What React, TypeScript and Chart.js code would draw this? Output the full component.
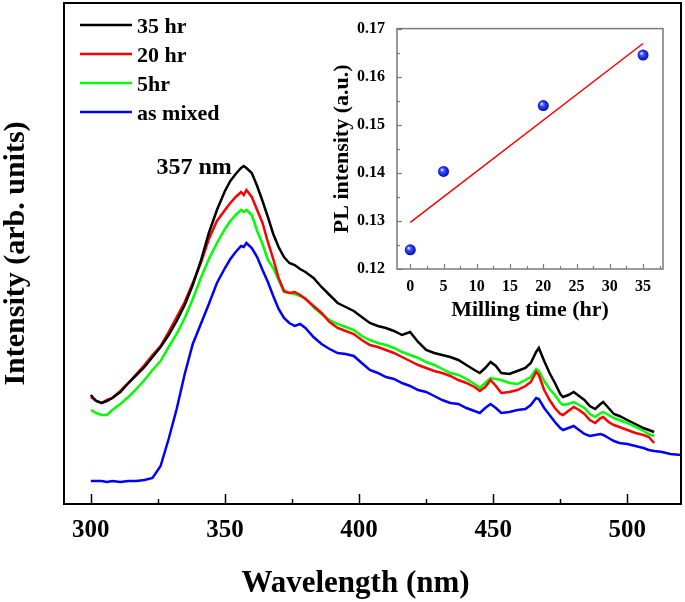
import React, { useEffect, useRef } from 'react';
import { Chart, registerables } from 'chart.js';

Chart.register(...registerables);

const FONT = "'Liberation Serif', 'Times New Roman', serif";

// ---- main spectra (wavelength in nm, intensity in arb. units) ----
const wavelengths = [
  300, 302, 304, 306, 308, 311, 314, 317, 320, 323, 326, 329, 332, 335, 338, 341, 344, 347, 350, 352,
  354, 356, 357, 358, 360, 362, 364, 366, 368, 370, 372, 374, 376, 378, 380, 383, 386, 389, 392, 395,
  398, 401, 404, 407, 410, 413, 416, 419, 422, 425, 428, 431, 434, 437, 440, 443, 445, 447, 449, 451,
  453, 456, 459, 462, 464, 466, 467, 469, 471, 473, 475, 476, 478, 480, 482, 484, 486, 488, 490, 491,
  493, 495, 497, 500, 503, 506, 508, 510,
];
const intensity35hr = [
  109, 103, 101, 103, 106, 112, 121, 129, 137, 147, 157, 169, 183, 199, 219, 243, 271, 294, 313, 323,
  330, 336, 338, 336, 331, 318, 303, 287, 270, 257, 247, 241, 239, 235, 232, 226, 217, 209, 201, 197,
  193, 187, 181, 178, 176, 173, 169, 172, 162, 154, 151, 149, 147, 144, 139, 134, 131, 136, 142, 138,
  131, 130, 133, 136, 141, 152, 156, 143, 131, 121, 110, 107, 109, 112, 108, 104, 98, 95, 100, 102,
  96, 90, 88, 84, 80, 76, 74, 72,
];
const intensity20hr = [
  107, 103, 101, 104, 106, 113, 121, 130, 139, 149, 158, 172, 187, 202, 221, 241, 265, 283, 294, 301,
  307, 312, 309, 314, 307, 294, 281, 262, 245, 226, 213, 211, 212, 209, 205, 198, 191, 182, 176, 173,
  170, 164, 159, 157, 154, 151, 147, 143, 139, 136, 133, 131, 128, 124, 121, 117, 113, 117, 124, 118,
  111, 112, 114, 118, 122, 132, 129, 114, 104, 96, 90, 89, 93, 97, 94, 90, 84, 81, 86, 87,
  82, 79, 77, 74, 71, 69, 67, 61,
];
const intensity5hr = [
  94, 91, 89, 89, 94, 100, 107, 115, 124, 134, 143, 157, 170, 186, 205, 226, 245, 261, 275, 283,
  289, 294, 292, 294, 289, 273, 260, 244, 236, 224, 212, 211, 210, 208, 206, 197, 190, 184, 180, 177,
  174, 168, 164, 161, 159, 156, 152, 149, 146, 142, 139, 135, 131, 129, 125, 120, 116, 121, 126, 125,
  124, 121, 120, 124, 127, 135, 133, 123, 115, 109, 101, 99, 100, 102, 99, 96, 90, 87, 91, 92,
  89, 86, 84, 81, 77, 73, 70, 68,
];
const wavelengthsMixed = [
  300, 302, 304, 306, 308, 311, 314, 317, 320, 323, 326, 329, 332, 335, 338, 341, 344, 347, 350, 352,
  354, 356, 357, 358, 360, 362, 364, 366, 368, 370, 372, 374, 376, 378, 380, 383, 386, 389, 392, 395,
  398, 401, 404, 407, 410, 413, 416, 419, 422, 425, 428, 431, 434, 437, 440, 443, 445, 447, 449, 451,
  453, 456, 459, 462, 464, 466, 467, 469, 471, 473, 475, 476, 478, 480, 482, 484, 486, 488, 490, 491,
  493, 495, 497, 500, 503, 506, 508, 510, 513, 516, 520,
];
const intensityMixed = [
  23, 23, 23, 22, 23, 22, 23, 23, 24, 26, 38, 65, 95, 130, 160, 180, 200, 221, 236, 245,
  252, 258, 257, 261, 256, 247, 234, 222, 208, 195, 186, 181, 178, 180, 176, 167, 160, 155, 151, 150,
  148, 141, 134, 131, 127, 125, 121, 118, 114, 112, 108, 104, 101, 100, 96, 93, 91, 96, 100, 96,
  91, 92, 94, 95, 99, 106, 105, 96, 89, 82, 76, 74, 76, 78, 74, 70, 68, 69, 70, 69,
  66, 63, 61, 60, 58, 56, 54, 53, 52, 50, 49,
];

const seriesLabels = ['35 hr', '20 hr', '5hr', 'as mixed'];
const seriesColors = ['#000000', '#ff0000', '#00ff00', '#0000ff'];
const wavelengthTicks = [300, 350, 400, 450, 500];
const peakWavelength = 357;
const peakLabel = '357 nm';

// ---- inset: PL intensity vs milling time ----
const millingTime = [0, 5, 20, 35];
const plIntensity = [0.124, 0.1403, 0.154, 0.1645];
const fitTime = [0, 35];
const fitIntensity = [0.1297, 0.1669];
const millingTicks = [0, 5, 10, 15, 20, 25, 30, 35];
const plTicks = [0.12, 0.13, 0.14, 0.15, 0.16, 0.17];

const mainPlugin = {
  id: 'mainDecor',
  afterDraw(chart: any) {
    const { ctx, chartArea: a, scales } = chart;
    const xs = scales.x;
    const ys = scales.y;
    ctx.save();
    ctx.strokeStyle = '#000';
    ctx.lineWidth = 2;
    ctx.strokeRect(a.left, a.top, a.right - a.left, a.bottom - a.top);
    ctx.lineWidth = 1.5;
    for (let v = 300; v <= 500; v += 25) {
      const px = Math.round(xs.getPixelForValue(v)) + 0.5;
      const len = v % 50 === 0 ? 10 : 5;
      ctx.beginPath();
      ctx.moveTo(px, a.bottom);
      ctx.lineTo(px, a.bottom - len);
      ctx.stroke();
    }
    ctx.font = `bold 22px ${FONT}`;
    ctx.textAlign = 'left';
    ctx.textBaseline = 'alphabetic';
    chart.data.datasets.forEach((ds: any, i: number) => {
      const ly = a.top + 22 + i * 29;
      ctx.strokeStyle = ds.borderColor;
      ctx.lineWidth = 2.5;
      ctx.beginPath();
      ctx.moveTo(a.left + 16, ly);
      ctx.lineTo(a.left + 68, ly);
      ctx.stroke();
      ctx.fillStyle = '#000';
      ctx.fillText(ds.label, a.left + 73, ly + 8);
    });
    const idx = wavelengths.indexOf(peakWavelength);
    const ppx = xs.getPixelForValue(peakWavelength);
    const ppy = ys.getPixelForValue(intensity35hr[idx]);
    ctx.font = `bold 24px ${FONT}`;
    ctx.textAlign = 'right';
    ctx.fillStyle = '#000';
    ctx.fillText(peakLabel, ppx - 12, ppy + 8);
    ctx.font = `bold 31px ${FONT}`;
    ctx.textAlign = 'center';
    ctx.fillText('Wavelength (nm)', (a.left + a.right) / 2 - 17, 592);
    ctx.restore();
  },
};

const insetPlugin = {
  id: 'insetDecor',
  afterDraw(chart: any) {
    const { ctx, chartArea: a, scales } = chart;
    const xs = scales.x;
    const ys = scales.y;
    ctx.save();
    ctx.strokeStyle = '#7a7a7a';
    ctx.lineWidth = 1.5;
    ctx.strokeRect(a.left, a.top, a.right - a.left, a.bottom - a.top);
    ctx.lineWidth = 1.2;
    for (let i = 0; i <= 15; i++) {
      const v = i * 2.5;
      const px = Math.round(xs.getPixelForValue(v)) + 0.5;
      const len = i % 2 === 0 ? 5 : 3;
      ctx.beginPath();
      ctx.moveTo(px, a.bottom);
      ctx.lineTo(px, a.bottom - len);
      ctx.stroke();
    }
    for (let i = 0; i <= 10; i++) {
      const v = 0.12 + i * 0.005;
      const py = Math.round(ys.getPixelForValue(v)) + 0.5;
      const len = i % 2 === 0 ? 5 : 3;
      ctx.beginPath();
      ctx.moveTo(a.left, py);
      ctx.lineTo(a.left + len, py);
      ctx.stroke();
    }
    ctx.restore();
  },
};

export default function App() {
  const mainRef = useRef<HTMLCanvasElement | null>(null);
  const insetRef = useRef<HTMLCanvasElement | null>(null);

  useEffect(() => {
    const series = [
      { w: wavelengths, v: intensity35hr },
      { w: wavelengths, v: intensity20hr },
      { w: wavelengths, v: intensity5hr },
      { w: wavelengthsMixed, v: intensityMixed },
    ];
    const main = new Chart(mainRef.current as HTMLCanvasElement, {
      type: 'line',
      data: {
        datasets: series.map((s, i) => ({
          label: seriesLabels[i],
          data: s.w.map((w, j) => ({ x: w, y: s.v[j] })),
          borderColor: seriesColors[i],
          backgroundColor: seriesColors[i],
          borderWidth: 2.5,
          pointRadius: 0,
          tension: 0,
          fill: false,
        })),
      },
      options: {
        animation: false,
        responsive: false,
        maintainAspectRatio: false,
        layout: { padding: { top: 3, right: 4, left: 0, bottom: 0 } },
        plugins: { legend: { display: false }, tooltip: { enabled: false } },
        scales: {
          x: {
            type: 'linear',
            min: 290,
            max: 520,
            grid: { display: false },
            border: { display: false },
            afterBuildTicks: (scale: any) => {
              scale.ticks = wavelengthTicks.map((v) => ({ value: v }));
            },
            afterFit: (scale: any) => {
              scale.height = 98;
            },
            ticks: {
              color: '#000',
              padding: 4,
              font: { family: FONT, size: 25, weight: 'bold' },
            },
          },
          y: {
            type: 'linear',
            min: 0,
            max: 501,
            grid: { display: false },
            border: { display: false },
            ticks: { display: false },
            afterFit: (scale: any) => {
              scale.width = 64;
            },
            title: {
              display: true,
              text: 'Intensity (arb. units)',
              color: '#000',
              padding: { top: 1, bottom: 0 },
              font: { family: FONT, size: 30, weight: 'bold', lineHeight: 1 },
            },
          },
        },
      } as any,
      plugins: [mainPlugin],
    });

    const sphere = (ctx: any) => {
      const chart = ctx.chart;
      if (ctx.type !== 'data' || !chart.scales || !chart.scales.x || !chart.scales.y) return '#0000ff';
      const px = chart.scales.x.getPixelForValue(ctx.raw.x);
      const py = chart.scales.y.getPixelForValue(ctx.raw.y);
      if (!Number.isFinite(px) || !Number.isFinite(py)) return '#0000ff';
      const g = chart.ctx.createRadialGradient(px - 1.8, py - 1.8, 0.3, px, py, 6);
      g.addColorStop(0, '#e8eeff');
      g.addColorStop(0.3, '#3a55ff');
      g.addColorStop(1, '#0000a8');
      return g;
    };

    const inset = new Chart(insetRef.current as HTMLCanvasElement, {
      type: 'scatter',
      data: {
        datasets: [
          {
            label: 'fit',
            data: fitTime.map((t, i) => ({ x: t, y: fitIntensity[i] })),
            showLine: true,
            borderColor: '#ff0000',
            borderWidth: 1.5,
            pointRadius: 0,
            order: 2,
          },
          {
            label: 'PL',
            data: millingTime.map((t, i) => ({ x: t, y: plIntensity[i] })),
            pointRadius: 5.5,
            borderWidth: 0,
            backgroundColor: sphere,
            order: 1,
          },
        ],
      },
      options: {
        animation: false,
        responsive: false,
        maintainAspectRatio: false,
        layout: { padding: { top: 10, right: 7, left: 0, bottom: 0 } },
        plugins: { legend: { display: false }, tooltip: { enabled: false } },
        scales: {
          x: {
            type: 'linear',
            min: -2,
            max: 38,
            grid: { display: false },
            border: { display: false },
            afterBuildTicks: (scale: any) => {
              scale.ticks = millingTicks.map((v) => ({ value: v }));
            },
            afterFit: (scale: any) => {
              scale.height = 61;
            },
            ticks: {
              color: '#000',
              padding: 0,
              font: { family: FONT, size: 16, weight: 'bold' },
            },
            title: {
              display: true,
              text: 'Milling time (hr)',
              color: '#000',
              padding: { top: 0, bottom: 6 },
              font: { family: FONT, size: 22, weight: 'bold' },
            },
          },
          y: {
            type: 'linear',
            min: 0.12,
            max: 0.17,
            grid: { display: false },
            border: { display: false },
            afterBuildTicks: (scale: any) => {
              scale.ticks = plTicks.map((v) => ({ value: v }));
            },
            afterFit: (scale: any) => {
              scale.width = 77;
            },
            ticks: {
              color: '#000',
              padding: 4,
              font: { family: FONT, size: 16, weight: 'bold' },
              callback: (v: any) => Number(v).toFixed(2),
            },
            title: {
              display: true,
              text: 'PL intensity (a.u.)',
              color: '#000',
              padding: { top: 11.5, bottom: 0 },
              font: { family: FONT, size: 22, weight: 'bold', lineHeight: 1 },
            },
          },
        },
      } as any,
      plugins: [insetPlugin],
    });

    return () => {
      main.destroy();
      inset.destroy();
    };
  }, []);

  return (
    <div style={{ position: 'fixed', left: 0, top: 0, width: 685, height: 602, background: '#fff' }}>
      <canvas ref={mainRef} width={685} height={602} style={{ position: 'absolute', left: 0, top: 0 }} />
      <canvas ref={insetRef} width={350} height={315} style={{ position: 'absolute', left: 320, top: 15 }} />
    </div>
  );
}
